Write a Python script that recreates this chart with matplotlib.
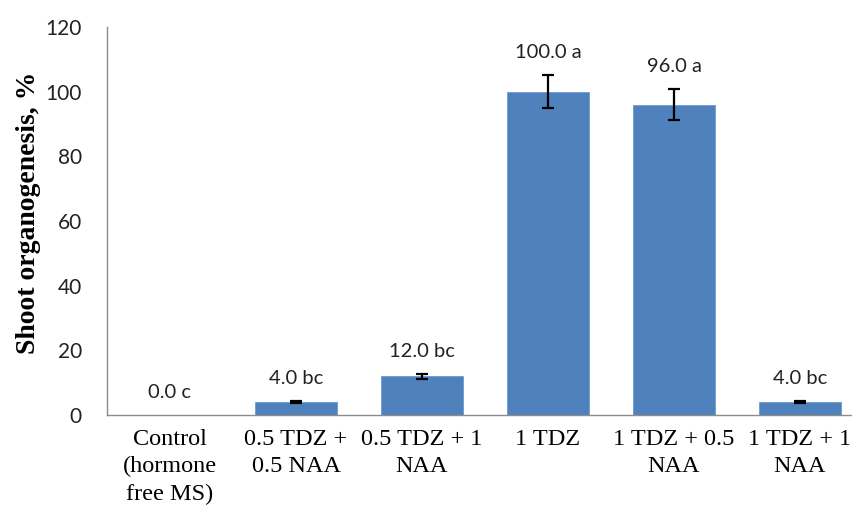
import matplotlib
matplotlib.use("Agg")
import matplotlib.pyplot as plt
import numpy as np

categories = [
    "Control\n(hormone\nfree MS)",
    "0.5 TDZ +\n0.5 NAA",
    "0.5 TDZ + 1\nNAA",
    "1 TDZ",
    "1 TDZ + 0.5\nNAA",
    "1 TDZ + 1\nNAA",
]
values = [0.0, 4.0, 12.0, 100.0, 96.0, 4.0]
errors = [0.0, 0.3, 0.8, 5.1, 4.9, 0.3]
letters = ["c", "bc", "bc", "a", "a", "bc"]
yticks = [0, 20, 40, 60, 80, 100, 120]

BAR = "#4F81BD"
AXIS = "#8C8C8C"

fig = plt.figure(figsize=(8.53, 5.08), dpi=100)
# plot area runs past the right edge in the reference (cropped)
ax = fig.add_axes([107 / 853, 93 / 508, 756 / 853, 388 / 508])

x = np.arange(len(categories))
ax.bar(x, values, width=0.645, color=BAR, edgecolor="#6F9AD0", linewidth=0.6, zorder=2)
ax.errorbar(x[1:], values[1:], yerr=errors[1:], fmt="none", ecolor="black",
            elinewidth=1.6, capsize=4.5, capthick=1.6, zorder=3)

for xi, v, e, lt in zip(x, values, errors, letters):
    ax.annotate(f"{v:.1f} {lt}", (xi, v + e), xytext=(0, 10), textcoords="offset points",
                ha="center", va="bottom", fontsize=14.5, family=["Lato", "DejaVu Sans"],
                color="#222222")

ax.set_xlim(-0.5, 5.5)
ax.set_ylim(0, 120)
ax.set_yticks(yticks)
ax.set_yticklabels([str(t) for t in yticks], fontsize=15, family=["Lato", "DejaVu Sans"],
                   color="#222222")
ax.set_xticks(x)
ax.set_xticklabels(categories, fontsize=17.5, family="Liberation Serif", linespacing=1.4,
                   va="top")
ax.tick_params(axis="y", length=0, pad=18)
ax.tick_params(axis="x", length=0, pad=10)

for side in ("top", "right"):
    ax.spines[side].set_visible(False)
for side in ("left", "bottom"):
    ax.spines[side].set_color(AXIS)
    ax.spines[side].set_linewidth(1.0)

ax.set_ylabel("Shoot organogenesis, %", fontsize=20, fontweight="bold",
              family="Liberation Serif")
ax.yaxis.set_label_coords(-66 / 756, 0.52)

fig.savefig("out.png", dpi=100)
